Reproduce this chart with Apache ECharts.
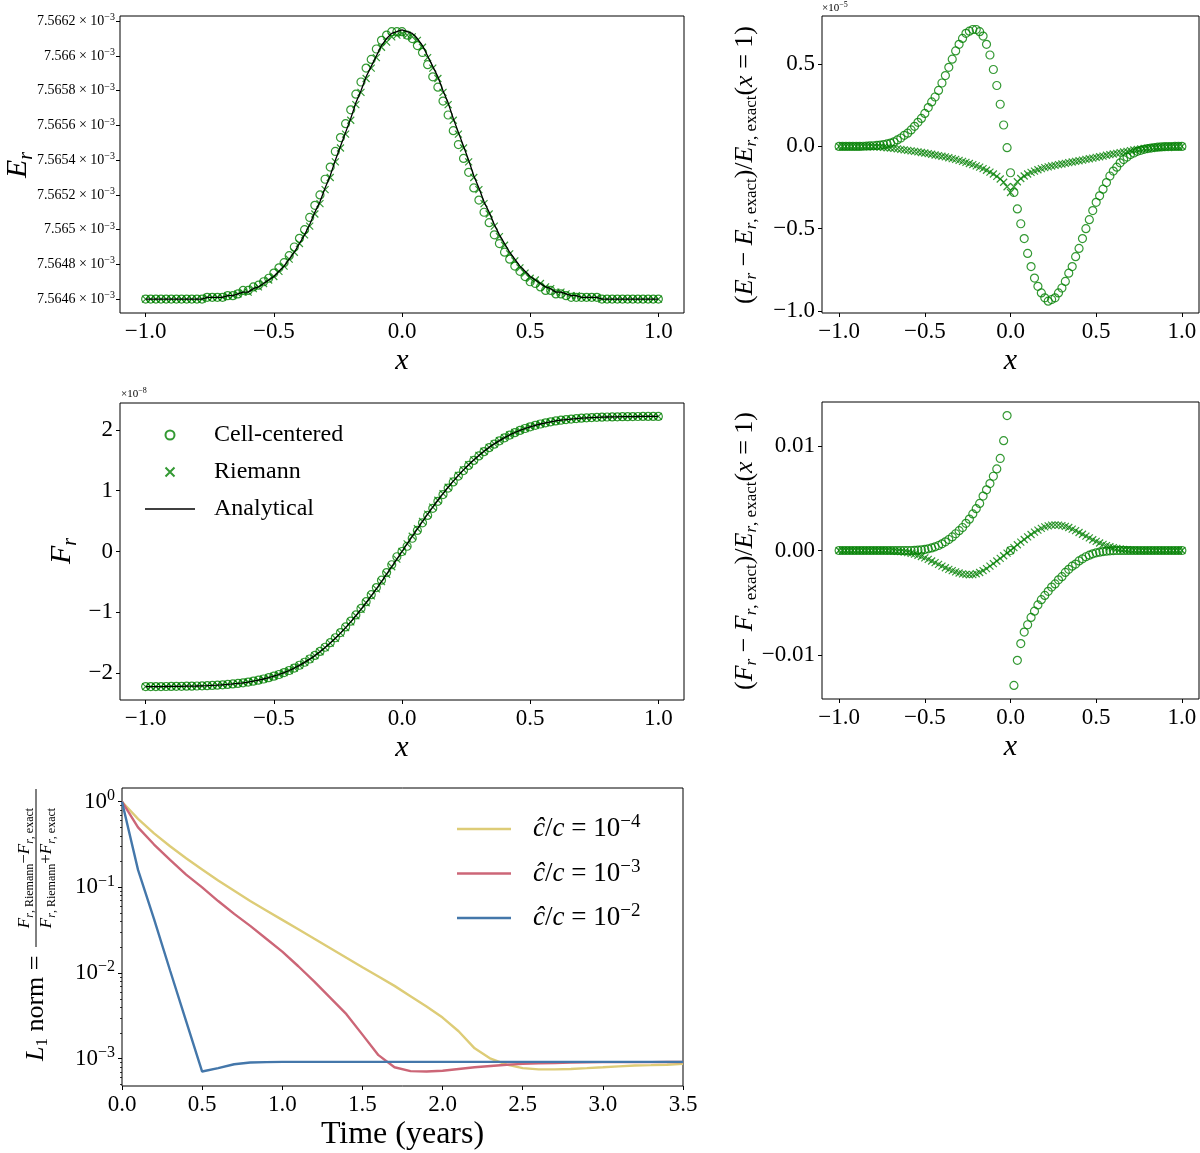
<!DOCTYPE html>
<html>
<head>
<meta charset="utf-8">
<script src="https://cdn.jsdelivr.net/npm/echarts@6/dist/echarts.min.js"></script>
<style>
html, body { margin: 0; background: #fff; }
#chart { width: 1200px; height: 1153px; }
</style>
</head>
<body>
<div id="chart"></div>
<script>
// cell positions, -1 .. 1 in steps of 0.02
const xCells = Array.from({length: 101}, (_, i) => Math.round((-1 + 0.02 * i) * 100) / 100);
// time samples for the L1 norm panel, 0 .. 3.5 years
const years = Array.from({length: 36}, (_, i) => i / 10);

// E_r (units of 1e-3)
const erAnalytical = [
  7.5646,7.5646,7.5646,7.5646,7.5646,7.5646,7.5646,7.5646,7.5646,7.5646,7.5646,7.5646,
  7.56461,7.56461,7.56461,7.56461,7.56462,7.56462,7.56463,7.56464,7.56464,7.56466,
  7.56467,7.56469,7.56471,7.56473,7.56476,7.56479,7.56483,7.56487,7.56492,7.56497,
  7.56503,7.5651,7.56516,7.56524,7.56531,7.5654,7.56548,7.56556,7.56564,7.56573,
  7.5658,7.56588,7.56594,7.566,7.56606,7.5661,7.56613,7.56614,
  7.56615,
  7.56614,7.56613,7.5661,7.56606,7.566,7.56594,7.56588,7.5658,
  7.56573,7.56564,7.56556,7.56548,7.5654,7.56531,7.56524,7.56516,7.5651,7.56503,
  7.56497,7.56492,7.56487,7.56483,7.56479,7.56476,7.56473,7.56471,7.56469,7.56467,
  7.56466,7.56464,7.56464,7.56463,7.56462,7.56462,7.56461,7.56461,7.56461,7.56461,
  7.5646,7.5646,7.5646,7.5646,7.5646,7.5646,7.5646,7.5646,7.5646,7.5646,7.5646,7.5646
];
const erCellCentered = [
  7.5646,7.5646,7.5646,7.5646,7.5646,7.5646,7.5646,7.5646,7.5646,7.5646,7.5646,7.5646,
  7.56461,7.56461,7.56461,7.56461,7.56462,7.56462,7.56463,7.56465,7.56465,7.56467,
  7.56468,7.5647,7.56472,7.56475,7.56478,7.56481,7.56485,7.5649,7.56495,7.565,
  7.56507,7.56514,7.5652,7.56529,7.56536,7.56545,7.56553,7.56561,7.56569,7.56578,
  7.56585,7.56593,7.56598,7.56604,7.56609,7.56612,7.56614,7.56614,
  7.56614,
  7.56612,7.5661,7.56606,7.56602,7.56595,7.56588,7.56582,7.56574,
  7.56566,7.56557,7.56549,7.56541,7.56533,7.56524,7.56517,7.5651,7.56504,7.56497,
  7.56492,7.56487,7.56483,7.56479,7.56476,7.56473,7.5647,7.56469,7.56467,7.56465,
  7.56465,7.56463,7.56463,7.56462,7.56461,7.56461,7.56461,7.56461,7.56461,7.56461,
  7.5646,7.5646,7.5646,7.5646,7.5646,7.5646,7.5646,7.5646,7.5646,7.5646,7.5646,7.5646
];
const erRiemann = [
  7.5646,7.5646,7.5646,7.5646,7.5646,7.5646,7.5646,7.5646,7.5646,7.5646,7.5646,7.5646,
  7.56461,7.56461,7.56461,7.56461,7.56462,7.56462,7.56463,7.56464,7.56464,7.56466,
  7.56467,7.56469,7.56471,7.56473,7.56476,7.56479,7.56483,7.56487,7.56492,7.56497,
  7.56502,7.56509,7.56515,7.56523,7.5653,7.56539,7.56547,7.56555,7.56563,7.56572,
  7.56579,7.56587,7.56593,7.56599,7.56605,7.56608,7.56611,7.56612,
  7.56613,
  7.56612,7.56611,7.56609,7.56605,7.56599,7.56593,7.56587,7.56579,
  7.56572,7.56563,7.56555,7.56547,7.56539,7.5653,7.56523,7.56515,7.56509,7.56502,
  7.56496,7.56491,7.56486,7.56482,7.56478,7.56475,7.56472,7.56471,7.56469,7.56467,
  7.56466,7.56464,7.56464,7.56463,7.56462,7.56462,7.56461,7.56461,7.56461,7.56461,
  7.5646,7.5646,7.5646,7.5646,7.5646,7.5646,7.5646,7.5646,7.5646,7.5646,7.5646,7.5646
];

// (E_r - E_r,exact) / E_r,exact(x=1)  (units of 1e-5)
const erErrCell = [
  0,0,0,0,0,0,0,
  0.001,0.002,0.003,0.004,0.006,0.008,0.011,0.015,0.02,0.028,
  0.039,0.051,0.067,0.08,0.1,0.122,0.146,0.17,0.2,0.236,
  0.27,0.3,0.34,0.385,0.43,0.48,0.53,0.58,0.62,0.656,
  0.687,0.7,0.71,0.71,0.697,0.67,0.62,0.555,0.467,0.37,
  0.256,0.13,-0.008,
  -0.16,
  -0.28,-0.38,-0.47,-0.56,-0.65,-0.73,-0.8,-0.85,-0.89,-0.92,
  -0.94,-0.93,-0.92,-0.89,-0.86,-0.82,-0.77,-0.73,-0.67,-0.62,
  -0.56,-0.5,-0.445,-0.39,-0.34,-0.3,-0.26,-0.22,-0.18,-0.15,
  -0.126,-0.1,-0.08,-0.065,-0.05,-0.04,-0.03,-0.024,-0.018,-0.013,
  -0.01,-0.007,-0.005,-0.003,-0.002,-0.001,-0.001,0,0,0
];
const erErrRiemann = [
  0,0,0,0,0,0,0,0,0,0,
  -0.002,-0.003,-0.004,-0.006,-0.008,-0.01,-0.012,-0.015,-0.018,-0.021,
  -0.024,-0.027,-0.03,-0.033,-0.037,-0.04,-0.044,-0.048,-0.052,-0.056,
  -0.06,-0.064,-0.069,-0.074,-0.079,-0.085,-0.091,-0.097,-0.104,-0.111,
  -0.118,-0.126,-0.135,-0.145,-0.156,-0.168,-0.182,-0.198,-0.218,-0.245,
  -0.28,
  -0.245,-0.215,-0.195,-0.18,-0.168,-0.158,-0.15,-0.142,-0.135,-0.129,
  -0.124,-0.119,-0.115,-0.111,-0.107,-0.103,-0.099,-0.095,-0.091,-0.087,
  -0.083,-0.079,-0.075,-0.071,-0.067,-0.063,-0.059,-0.054,-0.05,-0.046,
  -0.042,-0.038,-0.034,-0.03,-0.026,-0.022,-0.019,-0.016,-0.013,-0.011,
  -0.009,-0.007,-0.005,-0.004,-0.003,-0.002,-0.001,-0.001,0,0
];

// F_r (units of 1e-8)
const frAnalytical = [
  -2.22,-2.22,-2.219,-2.219,-2.218,-2.217,-2.216,-2.215,-2.213,-2.212,
  -2.21,-2.207,-2.204,-2.2,-2.196,-2.19,-2.184,-2.176,-2.167,-2.157,
  -2.145,-2.131,-2.114,-2.095,-2.073,-2.049,-2.021,-1.989,-1.955,-1.915,
  -1.871,-1.822,-1.769,-1.711,-1.647,-1.579,-1.505,-1.425,-1.341,-1.251,
  -1.156,-1.056,-0.951,-0.842,-0.729,-0.613,-0.494,-0.373,-0.25,-0.125,
  0,
  0.125,0.25,0.373,0.494,0.613,0.729,0.842,0.951,1.056,1.156,
  1.251,1.341,1.425,1.505,1.579,1.647,1.711,1.769,1.822,1.871,
  1.915,1.955,1.989,2.021,2.049,2.073,2.095,2.114,2.131,2.145,
  2.157,2.167,2.176,2.184,2.19,2.196,2.2,2.204,2.207,2.21,
  2.212,2.213,2.215,2.216,2.217,2.218,2.219,2.219,2.22,2.22
];
const frCellCentered = [
  -2.22,-2.22,-2.219,-2.219,-2.218,-2.217,-2.216,-2.215,-2.213,-2.212,
  -2.21,-2.207,-2.204,-2.2,-2.196,-2.19,-2.184,-2.176,-2.167,-2.157,
  -2.145,-2.131,-2.114,-2.095,-2.073,-2.049,-2.021,-1.989,-1.955,-1.915,
  -1.869,-1.82,-1.766,-1.707,-1.642,-1.573,-1.498,-1.417,-1.332,-1.24,
  -1.144,-1.042,-0.935,-0.825,-0.71,-0.592,-0.471,-0.347,-0.218,-0.086,
  0,
  0.086,0.218,0.346,0.471,0.592,0.71,0.825,0.935,1.042,1.143,
  1.239,1.33,1.415,1.497,1.571,1.641,1.706,1.764,1.818,1.868,
  1.913,1.953,1.989,2.021,2.049,2.073,2.095,2.114,2.131,2.145,
  2.157,2.167,2.176,2.184,2.19,2.196,2.2,2.204,2.207,2.21,
  2.212,2.213,2.215,2.216,2.217,2.218,2.219,2.219,2.22,2.22
];
// Riemann markers sit on the analytical curve at this scale
const frRiemann = frAnalytical;

// (F_r - F_r,exact) / E_r,exact(x=1)
const frErrCell = [
  0,0,0,0,0,0,0,0,0,0,0,0,0,0,0,0,0,0,0,0,0,0,
  0.00001,0.00003,0.00006,0.0001,0.00016,0.00025,0.00035,0.00048,0.00064,0.00083,
  0.00105,0.0013,0.0016,0.0019,0.0022,0.0026,0.003,0.0035,0.004,0.0045,
  0.0052,0.0058,0.0064,0.0071,0.0078,0.0088,0.0105,0.0129,
  0,
  -0.0129,-0.0105,-0.0089,-0.0078,-0.0071,-0.0064,-0.0058,-0.0052,-0.0047,-0.0043,
  -0.0039,-0.0035,-0.0032,-0.0028,-0.0025,-0.0021,-0.0018,-0.0015,-0.0013,-0.001,
  -0.0008,-0.0006,-0.00045,-0.00032,-0.00022,-0.00016,-0.0001,-0.00006,-0.00003,-0.00001,
  0,0,0,0,0,0,0,0,0,0,0,0,0,0,0,0,0,0,0,0
];
const frErrRiemann = [
  0,0,0,0,0,0,0,0,0,0,0,0,0,0,0,
  -0.00003,-0.00005,-0.00008,-0.00011,-0.00015,-0.0002,-0.00027,-0.00035,-0.00045,-0.00057,
  -0.0007,-0.00085,-0.001,-0.00116,-0.00132,-0.0015,-0.00165,-0.0018,-0.00193,-0.00205,
  -0.00215,-0.00223,-0.00229,-0.00232,-0.0023,-0.00222,-0.0021,-0.00193,-0.00173,-0.0015,
  -0.00126,-0.001,-0.00076,-0.0005,-0.00025,
  0,
  0.00028,0.00055,0.0008,0.00105,0.0013,0.00153,0.00175,0.00195,0.00212,0.00226,
  0.00236,0.00243,0.00245,0.00243,0.00238,0.0023,0.0022,0.00205,0.0019,0.00172,
  0.00155,0.00137,0.0012,0.00103,0.00087,0.00072,0.00058,0.00046,0.00036,0.00027,
  0.0002,0.00014,0.0001,0.00007,0.00004,0.00002,0.00001,0,0,0,
  0,0,0,0,0,0,0,0,0,0
];

// L1 norm vs time for three reduced speeds of light
const normNames = ['ĉ/c = 10^−4', 'ĉ/c = 10^−3', 'ĉ/c = 10^−2'];
const normC4 = [1,0.631,0.427,0.302,0.219,0.162,0.12,0.0912,0.0692,0.0537,0.0417,0.0324,0.0251,0.0195,0.0151,0.0117,
  0.00912,0.00708,0.00537,0.00407,0.00302,0.00209,0.00132,0.001,0.000851,0.000776,0.00075,0.00075,0.000759,0.000776,
  0.000794,0.000813,0.000832,0.000841,0.000851,0.000871];
const normC3 = [1,0.501,0.316,0.209,0.141,0.1,0.0692,0.049,0.0355,0.0251,0.0178,0.012,0.00794,0.00513,0.00331,0.00191,
  0.0011,0.000794,0.000716,0.000708,0.000724,0.000759,0.000794,0.000822,0.000851,0.000871,0.000881,0.000891,0.000902,0.000906,
  0.000912,0.000912,0.000912,0.000913,0.000914,0.000915];
const normC2 = [1,0.16,0.0427,0.0107,0.00275,0.000708,0.000776,0.000861,0.000902,0.000912,0.000918,0.000918,0.000918,0.000918,
  0.000918,0.000918,0.000918,0.000918,0.000918,0.000918,0.000918,0.000918,0.000918,0.000918,0.000918,0.000918,0.000918,0.000918,
  0.000918,0.000918,0.000918,0.000918,0.000918,0.000918,0.000918,0.000918];

// tick labels
const xTicks = [-1, -0.5, 0, 0.5, 1];
const erTicks = [7.5646, 7.5648, 7.565, 7.5652, 7.5654, 7.5656, 7.5658, 7.566, 7.5662];
const erErrTicks = [-1, -0.5, 0, 0.5];
const frTicks = [-2, -1, 0, 1, 2];
const frErrTicks = [-0.01, 0, 0.01];
const normTicks = [0.001, 0.01, 0.1, 1];
const normMinorTicks = [0.0005,0.0006,0.0007,0.0008,0.0009,0.002,0.003,0.004,0.005,0.006,0.007,0.008,0.009,
  0.02,0.03,0.04,0.05,0.06,0.07,0.08,0.09,0.2,0.3,0.4,0.5,0.6,0.7,0.8,0.9];

const SERIF = '"Liberation Serif", "DejaVu Serif", serif';
const GREEN = '#008000';
const CROSS = 'path://M0,0L10,10M10,0L0,10';
const lineColors = ['#DDCC77', '#CC6677', '#4477AA'];
const minus = s => String(s).replace('-', '\u2212');
const TICK_FONT = 23;

var chart = echarts.init(document.getElementById('chart'));

function pairs(xs, ys) {
    return xs.map((x, i) => [x, ys[i]]);
}

function xAxisX(gi) {
    return {
        type: 'value', gridIndex: gi, min: -1.1, max: 1.1,
        axisLine: {show: false, onZero: false},
        axisTick: {show: true, length: 4, lineStyle: {color: '#000'}, customValues: xTicks},
        axisLabel: {customValues: xTicks, formatter: v => minus(v.toFixed(1)),
            color: '#000', fontFamily: SERIF, fontSize: TICK_FONT, margin: 7},
        splitLine: {show: false},
        name: 'x', nameLocation: 'middle', nameGap: 33,
        nameTextStyle: {fontFamily: SERIF, fontStyle: 'italic', fontSize: 30, color: '#000'}
    };
}

function yAxisOf(gi, min, max, ticks, fmt, extra) {
    return Object.assign({
        type: 'value', gridIndex: gi, min: min, max: max,
        axisLine: {show: false, onZero: false},
        axisTick: {show: true, length: 4, lineStyle: {color: '#000'}, customValues: ticks},
        axisLabel: {customValues: ticks, formatter: fmt, color: '#000',
            fontFamily: SERIF, fontSize: TICK_FONT, margin: 7},
        splitLine: {show: false}
    }, extra || {});
}

const gridStyle = {show: true, borderColor: '#000', borderWidth: 1, containLabel: false};

const circleStyle = {color: 'rgba(0,0,0,0)', borderColor: GREEN, borderWidth: 1.2};
const crossStyle = {color: 'rgba(0,0,0,0)', borderColor: GREEN, borderWidth: 1.2};

function markers(name, gi, ys, isCross) {
    return {
        type: 'scatter', name: name, xAxisIndex: gi, yAxisIndex: gi,
        data: pairs(xCells, ys),
        symbol: isCross ? CROSS : 'circle',
        symbolSize: isCross ? 7 : 8,
        itemStyle: isCross ? crossStyle : circleStyle,
        silent: true
    };
}

function analytical(gi, ys) {
    return {
        type: 'line', name: 'Analytical', xAxisIndex: gi, yAxisIndex: gi,
        data: pairs(xCells, ys), symbol: 'none', showSymbol: false,
        lineStyle: {color: '#000', width: 1.3}, itemStyle: {color: '#000'}, silent: true
    };
}

function normLine(k, ys) {
    return {
        type: 'line', name: normNames[k], xAxisIndex: 4, yAxisIndex: 4, data: pairs(years, ys), symbol: 'none',
        lineStyle: {color: lineColors[k], width: 2.4}, itemStyle: {color: lineColors[k]}, silent: true
    };
}

// rich text pieces
const richBase = (size, sub) => ({
    n: {fontFamily: SERIF, fontSize: size},
    i: {fontFamily: SERIF, fontSize: size, fontStyle: 'italic'},
    s: {fontFamily: SERIF, fontSize: sub, fontStyle: 'italic', padding: [Math.round(size * 0.55), 0, 0, 0]},
    u: {fontFamily: SERIF, fontSize: sub, padding: [Math.round(size * 0.55), 0, 0, 0]}
});

const erLabel = v => '{m|' + v.toFixed(4).replace(/0+$/, '') + ' × 10}{s|−3}';

option = {
    animation: false,
    backgroundColor: '#fff',
    grid: [
        Object.assign({left: 120, top: 16, width: 564, height: 297}, gridStyle),
        Object.assign({left: 822, top: 16, width: 377, height: 297}, gridStyle),
        Object.assign({left: 120, top: 403, width: 564, height: 297}, gridStyle),
        Object.assign({left: 822, top: 402, width: 377, height: 297}, gridStyle),
        Object.assign({left: 122, top: 788, width: 561, height: 298}, gridStyle)
    ],
    xAxis: [
        xAxisX(0), xAxisX(1), xAxisX(2), xAxisX(3),
        {
            type: 'value', gridIndex: 4, min: 0, max: 3.5, interval: 0.5,
            axisLine: {show: false, onZero: false},
            axisTick: {show: true, length: 4, lineStyle: {color: '#000'}},
            axisLabel: {formatter: v => v.toFixed(1), color: '#000', fontFamily: SERIF, fontSize: TICK_FONT, margin: 7},
            splitLine: {show: false},
            name: 'Time (years)', nameLocation: 'middle', nameGap: 33,
            nameTextStyle: {fontFamily: SERIF, fontSize: 32, color: '#000'}
        }
    ],
    yAxis: [
        yAxisOf(0, 7.56452, 7.56623, erTicks, erLabel,
            {axisLabel: {customValues: erTicks, color: '#000', margin: 5, formatter: erLabel,
                rich: {m: {fontFamily: SERIF, fontSize: 14, color: '#000'},
                       s: {fontFamily: SERIF, fontSize: 10, color: '#000', padding: [0, 0, 7, 0]}}}}),
        yAxisOf(1, -1.012, 0.792, erErrTicks, v => minus(v.toFixed(1))),
        yAxisOf(2, -2.44, 2.44, frTicks, v => minus(v.toFixed(0))),
        yAxisOf(3, -0.0142, 0.0142, frErrTicks, v => minus(v.toFixed(2))),
        {
            type: 'log', gridIndex: 4, logBase: 10, min: 0.00048, max: 1.445,
            axisLine: {show: false, onZero: false},
            axisTick: {show: true, length: 4, lineStyle: {color: '#000'}, customValues: normTicks},
            axisLabel: {customValues: normTicks, color: '#000', margin: 7,
                formatter: v => '{n|10}{s|' + minus(Math.round(Math.log10(v))) + '}',
                rich: {n: {fontFamily: SERIF, fontSize: TICK_FONT, color: '#000'},
                       s: {fontFamily: SERIF, fontSize: 16, color: '#000', padding: [0, 0, 12, 0]}}},
            splitLine: {show: false}
        },
        {
            type: 'log', gridIndex: 4, logBase: 10, min: 0.00048, max: 1.445, position: 'left',
            axisLine: {show: false, onZero: false},
            axisTick: {show: true, length: 2, lineStyle: {color: '#000', width: 0.8}, customValues: normMinorTicks},
            axisLabel: {show: false},
            splitLine: {show: false}
        }
    ],
    legend: [
        {
            data: ['Cell-centered', 'Riemann', {name: 'Analytical', icon: 'path://M0,0H50V1.4H0Z'}],
            orient: 'vertical', left: 145, top: 423, padding: 0,
            itemWidth: 50, itemHeight: 9, itemGap: 13, selectedMode: false,
            textStyle: {fontFamily: SERIF, fontSize: 24, color: '#000', padding: [0, 0, 0, 14]}
        },
        {
            data: normNames.map(n => ({name: n, icon: 'path://M0,0H54V2.6H0Z'})),
            orient: 'vertical', left: 457, top: 813, padding: 0,
            itemWidth: 54, itemHeight: 14, itemGap: 15, selectedMode: false,
            formatter: name => '{i|ĉ}{n|/}{i|c}{n| = 10}{s|' + name.split('^')[1] + '}',
            textStyle: {fontFamily: SERIF, fontSize: 27, color: '#000', padding: [0, 0, 0, 17],
                rich: {
                    n: {fontFamily: SERIF, fontSize: 27, color: '#000'},
                    i: {fontFamily: SERIF, fontSize: 27, fontStyle: 'italic', color: '#000'},
                    s: {fontFamily: SERIF, fontSize: 19, color: '#000', padding: [0, 0, 13, 0]}
                }}
        }
    ],
    graphic: [
        {type: 'text', x: 18, y: 165, rotation: Math.PI / 2,
         style: {text: '{i|E}{s|r}', rich: richBase(30, 20), fill: '#000', align: 'center', verticalAlign: 'middle'}},
        {type: 'text', x: 62, y: 551, rotation: Math.PI / 2,
         style: {text: '{i|F}{s|r}', rich: richBase(30, 20), fill: '#000', align: 'center', verticalAlign: 'middle'}},
        {type: 'text', x: 745, y: 165, rotation: Math.PI / 2,
         style: {text: '{n|(}{i|E}{s|r}{n| − }{i|E}{s|r}{u|, exact}{n|)/}{i|E}{s|r}{u|, exact}{n|(}{i|x}{n| = 1)}',
                 rich: richBase(26, 17), fill: '#000', align: 'center', verticalAlign: 'middle'}},
        {type: 'text', x: 745, y: 551, rotation: Math.PI / 2,
         style: {text: '{n|(}{i|F}{s|r}{n| − }{i|F}{s|r}{u|, exact}{n|)/}{i|E}{s|r}{u|, exact}{n|(}{i|x}{n| = 1)}',
                 rich: richBase(26, 17), fill: '#000', align: 'center', verticalAlign: 'middle'}},
        {type: 'text', x: 822, y: 1,
         style: {text: '{n|×10}{p|−5}', fill: '#000', align: 'left', verticalAlign: 'top',
                 rich: {n: {fontFamily: SERIF, fontSize: 11}, p: {fontFamily: SERIF, fontSize: 8, padding: [0, 0, 6, 0]}}}},
        {type: 'text', x: 121, y: 387,
         style: {text: '{n|×10}{p|−8}', fill: '#000', align: 'left', verticalAlign: 'top',
                 rich: {n: {fontFamily: SERIF, fontSize: 11}, p: {fontFamily: SERIF, fontSize: 8, padding: [0, 0, 6, 0]}}}},
        {type: 'group', x: 36, y: 925, rotation: Math.PI / 2, children: [
            {type: 'text', x: -136, y: 0,
             style: {text: '{i|L}{u|1}{n| norm =}', rich: richBase(26, 17), fill: '#000', align: 'left', verticalAlign: 'middle'}},
            {type: 'text', x: 57, y: -11,
             style: {text: '{i|F}{s|r}{u|, Riemann}{n|−}{i|F}{s|r}{u|, exact}', rich: richBase(17, 12),
                     fill: '#000', align: 'center', verticalAlign: 'middle'}},
            {type: 'line', shape: {x1: -22, y1: 0, x2: 136, y2: 0}, style: {stroke: '#000', lineWidth: 1}},
            {type: 'text', x: 57, y: 11,
             style: {text: '{i|F}{s|r}{u|, Riemann}{n|+}{i|F}{s|r}{u|, exact}', rich: richBase(17, 12),
                     fill: '#000', align: 'center', verticalAlign: 'middle'}}
        ]}
    ],
    series: [
        markers('Cell-centered', 0, erCellCentered, false),
        markers('Riemann', 0, erRiemann, true),
        analytical(0, erAnalytical),
        markers('Cell-centered', 1, erErrCell, false),
        markers('Riemann', 1, erErrRiemann, true),
        markers('Cell-centered', 2, frCellCentered, false),
        markers('Riemann', 2, frRiemann, true),
        analytical(2, frAnalytical),
        markers('Cell-centered', 3, frErrCell, false),
        markers('Riemann', 3, frErrRiemann, true),
        normLine(0, normC4),
        normLine(1, normC3),
        normLine(2, normC2)
    ]
};
chart.setOption(option);
</script>
</body>
</html>
